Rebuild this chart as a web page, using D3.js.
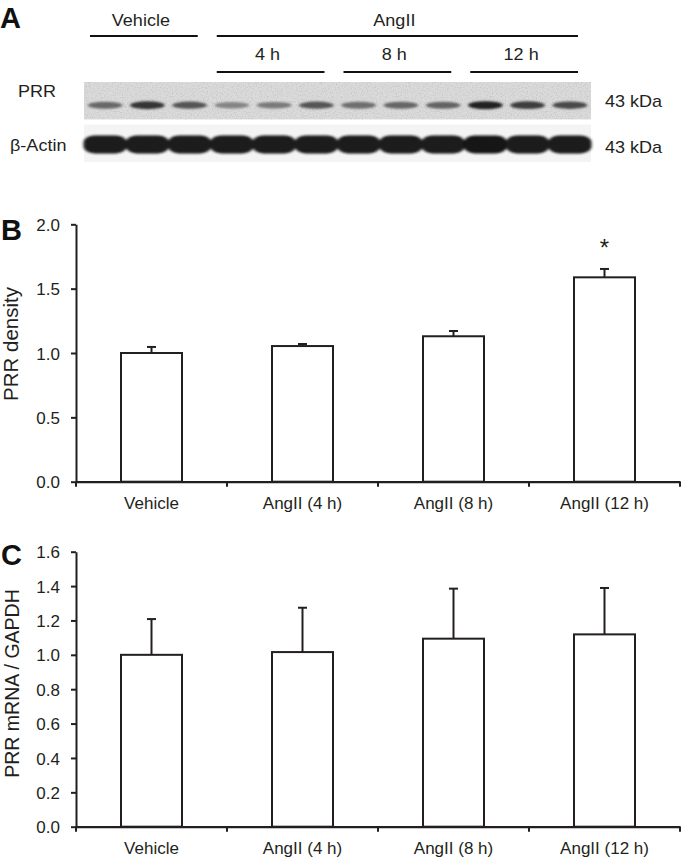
<!DOCTYPE html>
<html><head><meta charset="utf-8">
<script src="https://cdn.jsdelivr.net/npm/d3@7"></script>
<style>
body{margin:0;background:#fff}
svg{display:block}
text{font-family:"Liberation Sans",Arial,Helvetica,sans-serif;fill:#231f20}
</style>
</head><body>
<svg id="fig" width="681" height="860"></svg>
<script>
// ---------- data ----------
const categories = ["Vehicle", "AngII (4 h)", "AngII (8 h)", "AngII (12 h)"];
const prrDensity = [1.00, 1.054, 1.13, 1.588];
const prrDensityErr = [0.047, 0.016, 0.041, 0.065];
const prrDensitySig = ["", "", "", "*"];
const prrDensityTicks = [0, 0.5, 1.0, 1.5, 2.0];

const prrMrna = [1.00, 1.016, 1.094, 1.119];
const prrMrnaErr = [0.208, 0.258, 0.291, 0.270];
const prrMrnaTicks = [0, 0.2, 0.4, 0.6, 0.8, 1.0, 1.2, 1.4, 1.6];

// western blot (panel A): 12 lanes, band darkness 0..1
const blotLanes = ["V1","V2","V3","A4a","A4b","A4c","A8a","A8b","A8c","A12a","A12b","A12c"];
const prrBand   = [0.55, 0.82, 0.66, 0.40, 0.46, 0.66, 0.52, 0.56, 0.58, 0.92, 0.78, 0.72];
const actinBand = [0.97, 0.96, 0.97, 0.96, 0.96, 0.97, 0.96, 0.96, 0.97, 0.98, 0.97, 0.97];
const blotRows = ["PRR", "β-Actin"];
const blotMarkers = ["43 kDa", "43 kDa"];
const headerTop = [{label: "Vehicle", from: "V1", to: "V3"}, {label: "AngII", from: "A4a", to: "A12c"}];
const headerSub = [{label: "4 h", from: "A4a", to: "A4c"}, {label: "8 h", from: "A8a", to: "A8c"}, {label: "12 h", from: "A12a", to: "A12c"}];

// ---------- helpers ----------
const INK = "#231f20";
const svg = d3.select("#fig");
svg.append("rect").attr("width", 681).attr("height", 860).attr("fill", "#fff");

function stretch(sel, k) {
  sel.each(function () {
    const w = this.getComputedTextLength();
    d3.select(this).attr("textLength", w * k).attr("lengthAdjust", "spacingAndGlyphs");
  });
}
const SK = 1.06;
const FS = 17;

const defs = svg.append("defs");
defs.append("filter").attr("id", "blurBand").attr("x", "-30%").attr("y", "-80%").attr("width", "160%").attr("height", "260%")
  .append("feGaussianBlur").attr("stdDeviation", "1.5 1.1");
defs.append("filter").attr("id", "blurActin").attr("x", "-10%").attr("y", "-40%").attr("width", "120%").attr("height", "180%")
  .append("feGaussianBlur").attr("stdDeviation", "1.4 1.2");
const noise = defs.append("filter").attr("id", "noise").attr("x", 0).attr("y", 0).attr("width", "100%").attr("height", "100%");
noise.append("feTurbulence").attr("type", "fractalNoise").attr("baseFrequency", "0.8").attr("numOctaves", 2).attr("seed", 3).attr("result", "t");
noise.append("feColorMatrix").attr("in", "t").attr("type", "matrix")
  .attr("values", "0 0 0 0 0  0 0 0 0 0  0 0 0 0 0  0 0 0 -1.1 0.62").attr("result", "a");
noise.append("feComposite").attr("in", "a").attr("in2", "SourceGraphic").attr("operator", "in");

// ---------- Panel A: blot ----------
const gA = svg.append("g");
gA.append("text").attr("x", 0).attr("y", 28).attr("font-size", 29).attr("font-weight", "bold").text("A").style("fill", "#111");

const lane = d3.scaleBand().domain(blotLanes).range([84, 591]);
const lc = id => lane(id) + lane.bandwidth() / 2;

const rowY = d3.scaleBand().domain(blotRows).range([82, 162]).paddingInner(0.12);

// PRR strip
const prrTop = rowY("PRR"), prrH = rowY.bandwidth();
gA.append("rect").attr("x", 84).attr("y", prrTop).attr("width", 507).attr("height", prrH).attr("fill", "#dbdbdb");
gA.append("rect").attr("x", 84).attr("y", prrTop).attr("width", 507).attr("height", prrH).attr("fill", "#000").attr("opacity", 0.22).attr("filter", "url(#noise)");
// actin strip
const acTop = rowY("β-Actin"), acH = rowY.bandwidth();
gA.append("rect").attr("x", 84).attr("y", acTop).attr("width", 507).attr("height", acH).attr("fill", "#f4f4f4");

const bandColor = d3.scaleLinear().domain([0, 1]).range(["#cfcfcf", "#141414"]);
gA.append("g").attr("filter", "url(#blurBand)").selectAll("ellipse").data(blotLanes).join("ellipse")
  .attr("cx", d => lc(d)).attr("cy", prrTop + prrH * 0.62)
  .attr("rx", lane.bandwidth() * 0.41).attr("ry", (d, i) => 2.6 + prrBand[i] * 1.6)
  .attr("fill", (d, i) => bandColor(prrBand[i]));

gA.append("g").attr("filter", "url(#blurActin)").selectAll("rect").data(blotLanes).join("rect")
  .attr("x", d => lane(d) - 0.5).attr("width", lane.bandwidth() + 1)
  .attr("y", acTop + acH * 0.29).attr("height", acH * 0.48)
  .attr("rx", 11).attr("ry", 7)
  .attr("fill", (d, i) => bandColor(actinBand[i]));

// row labels
gA.selectAll("text.row").data(blotRows).join("text").attr("class", "row")
  .attr("x", (d, i) => i === 0 ? 18 : 10).attr("y", (d, i) => i === 0 ? 97 : 151)
  .attr("font-size", FS).text(d => d).call(stretch, SK);
gA.selectAll("text.mk").data(blotMarkers).join("text").attr("class", "mk")
  .attr("x", 605).attr("y", (d, i) => i === 0 ? 107 : 153)
  .attr("font-size", FS).text(d => d).call(stretch, SK);

// header lines and labels
function header(list, lineY, textY) {
  list.forEach(h => {
    const x0 = lane(h.from) + 6, x1 = lane(h.to) + lane.bandwidth() - 13;
    gA.append("line").attr("x1", x0).attr("x2", x1).attr("y1", lineY).attr("y2", lineY)
      .attr("stroke", "#111").attr("stroke-width", 2);
    gA.append("text").attr("x", (x0 + x1) / 2 - 3).attr("y", textY).attr("text-anchor", "middle")
      .attr("font-size", FS).text(h.label).call(stretch, SK);
  });
}
header(headerTop, 36, 26);
header(headerSub, 72, 60);

// ---------- bar panels ----------
function barPanel(o) {
  const g = svg.append("g");
  const x = d3.scaleBand().domain(categories).range([76, 680]);
  const y = d3.scaleLinear().domain([0, o.max]).range([o.y0, o.y1]);
  const bw = x.bandwidth();

  g.append("text").attr("x", 1).attr("y", o.letterY).attr("font-size", 29).attr("font-weight", "bold")
    .style("fill", "#111").text(o.letter);

  // y axis
  const ya = g.append("g").attr("transform", "translate(76,0)")
    .call(d3.axisLeft(y).tickValues(o.ticks).tickFormat(d3.format(".1f")).tickSize(5).tickSizeOuter(0).tickPadding(11));
  ya.select(".domain").attr("stroke", INK).attr("stroke-width", 2);
  ya.selectAll(".tick line").attr("stroke", INK).attr("stroke-width", 2);
  ya.selectAll(".tick text").attr("font-size", FS).attr("font-family", null).attr("dy", "0.36em").style("fill", INK);

  // x axis
  const xa = g.append("g").attr("transform", `translate(0,${o.y0})`)
    .call(d3.axisBottom(x).tickSize(0).tickSizeOuter(0).tickPadding(15.5));
  xa.select(".domain").attr("stroke", INK).attr("stroke-width", 2.2);
  xa.selectAll(".tick text").attr("font-size", FS).attr("font-family", null).style("fill", INK);
  const bounds = categories.map(c => x(c)).concat([x(categories[categories.length - 1]) + bw]);
  g.selectAll("line.bt").data(bounds).join("line").attr("class", "bt")
    .attr("x1", d => d).attr("x2", d => d).attr("y1", o.y0).attr("y2", o.y0 + 5)
    .attr("stroke", INK).attr("stroke-width", 2);

  // error bars
  const cx = c => x(c) + bw / 2;
  const eg = g.append("g").attr("stroke", INK).attr("stroke-width", 2);
  eg.selectAll("line.ev").data(categories).join("line").attr("class", "ev")
    .attr("x1", cx).attr("x2", cx)
    .attr("y1", (c, i) => y(o.vals[i])).attr("y2", (c, i) => y(o.vals[i] + o.errs[i]));
  eg.selectAll("line.ec").data(categories).join("line").attr("class", "ec")
    .attr("x1", c => cx(c) - 4.5).attr("x2", c => cx(c) + 4.5)
    .attr("y1", (c, i) => y(o.vals[i] + o.errs[i])).attr("y2", (c, i) => y(o.vals[i] + o.errs[i]));

  // bars
  g.selectAll("rect.bar").data(categories).join("rect").attr("class", "bar")
    .attr("x", c => x(c) + bw * 0.298).attr("width", bw * 0.404)
    .attr("y", (c, i) => y(o.vals[i])).attr("height", (c, i) => o.y0 - y(o.vals[i]))
    .attr("fill", "#fff").attr("stroke", INK).attr("stroke-width", 2);

  if (o.sig) {
    g.selectAll("text.sig").data(categories).join("text").attr("class", "sig")
      .attr("x", cx).attr("y", (c, i) => y(o.vals[i] + o.errs[i]) - 13)
      .attr("text-anchor", "middle").attr("font-size", 24).text((c, i) => o.sig[i]);
  }

  g.append("text").attr("transform", `translate(${o.titleX},${o.titleY}) rotate(-90)`)
    .attr("text-anchor", "middle").attr("font-size", o.titleSize).text(o.title);
}

barPanel({letter: "B", letterY: 240, y0: 481.7, y1: 224.3, max: 2.0, ticks: prrDensityTicks,
  vals: prrDensity, errs: prrDensityErr, sig: prrDensitySig,
  title: "PRR density", titleSize: 20.5, titleX: 17.5, titleY: 344});
barPanel({letter: "C", letterY: 565, y0: 826.7, y1: 551.7, max: 1.6, ticks: prrMrnaTicks,
  vals: prrMrna, errs: prrMrnaErr, sig: null,
  title: "PRR mRNA / GAPDH", titleSize: 19.5, titleX: 19, titleY: 683.5});
</script>
</body></html>
